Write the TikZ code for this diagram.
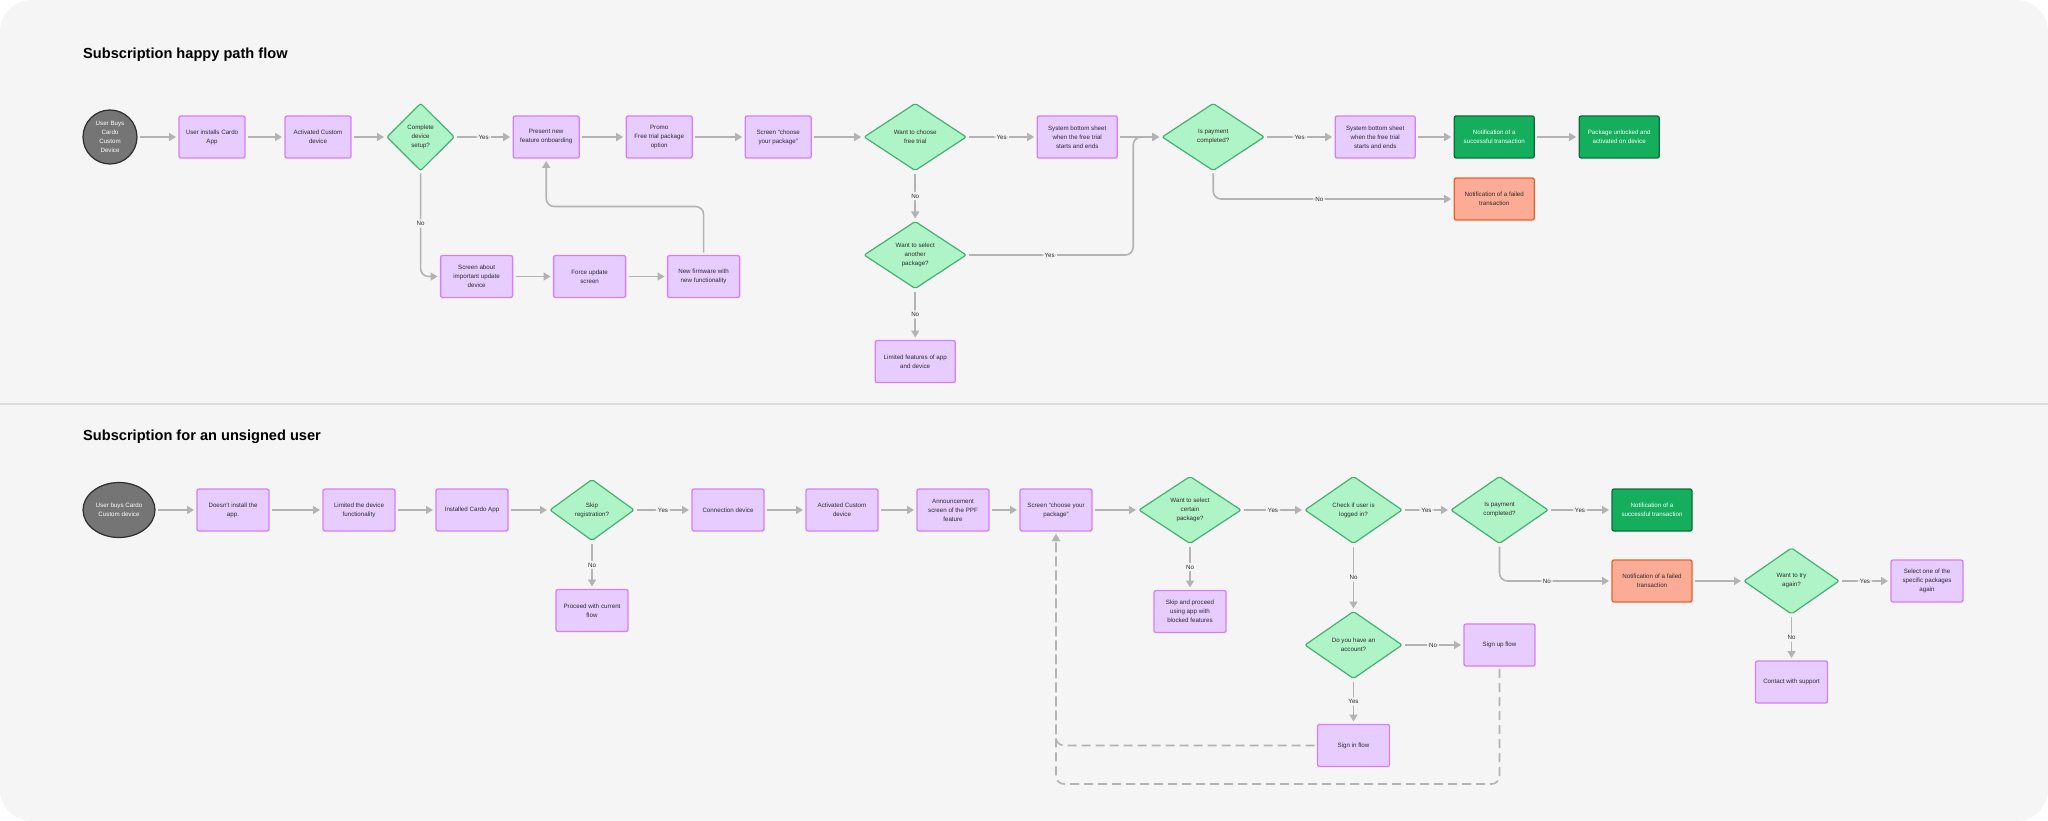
\documentclass[tikz,border=0pt]{standalone}
\usepackage{fontspec}
\setmainfont{Liberation Sans}
\usepackage{tikz}
\usetikzlibrary{positioning}
\usetikzlibrary{shapes.geometric}
\usetikzlibrary{arrows.meta}

\definecolor{canvas}{HTML}{F5F5F5}
\definecolor{rule}{HTML}{DDDDDD}
\definecolor{lilac}{HTML}{E6CCFF}
\definecolor{lilacline}{HTML}{D47EFA}
\definecolor{mint}{HTML}{AFF4C6}
\definecolor{mintline}{HTML}{45B072}
\definecolor{okfill}{HTML}{14AE5C}
\definecolor{okline}{HTML}{0B6E39}
\definecolor{failfill}{HTML}{FCAB96}
\definecolor{failline}{HTML}{E5642E}
\definecolor{startfill}{HTML}{757575}
\definecolor{startline}{HTML}{2E2E2E}
\definecolor{wire}{HTML}{B3B3B3}
\definecolor{ink}{HTML}{2C2C2C}

\begin{document}
\begin{tikzpicture}[
                x = 1pt, y = -1pt,
                box/.style = {
                    draw = lilacline,
                    fill = lilac,
                    line width = 1.3pt,
                    rounded corners = 2pt,
                    minimum width = #1,
                    minimum height = 42pt,
                    inner sep = 1pt,
                    outer sep = 0pt,
                    align = center,
                    text = ink,
                    font = \fontsize{6.2}{9}\selectfont
                },
                box/.default = 72pt,
                ok/.style = {box = 80pt, draw = okline, fill = okfill, text = white},
                fail/.style = {box = 80pt, draw = failline, fill = failfill},
                dec/.style = {
                    diamond,
                    aspect = 1.5,
                    draw = mintline,
                    fill = mint,
                    line width = 1.2pt,
                    rounded corners = 2pt,
                    minimum width = #1,
                    minimum height = 67pt,
                    inner sep = 1pt,
                    outer sep = 0pt,
                    align = center,
                    text = ink,
                    font = \fontsize{6.2}{9}\selectfont
                },
                dec/.default = 102pt,
                start/.style = {
                    circle,
                    draw = startline,
                    fill = startfill,
                    line width = 1.2pt,
                    inner sep = 0pt,
                    outer sep = 0pt,
                    align = center,
                    text = white,
                    font = \fontsize{6.2}{9}\selectfont
                },
                flow/.style = {
                    draw = wire,
                    line width = 1.6pt,
                    rounded corners = 8pt,
                    shorten <= 3pt,
                    shorten >= 3pt,
                    -{Triangle[length=7pt, width=8pt]}
                },
                retry/.style = {flow, dash pattern = on 9pt off 5pt},
                lbl/.style = {fill = canvas, inner sep = 2pt, text = ink, font = \fontsize{6.2}{7}\selectfont},
                title/.style = {anchor = west, inner sep = 0pt, font = \fontsize{14.6}{17}\selectfont\bfseries}
            ]
            \useasboundingbox (0,0) rectangle (2048,821);
            \fill[white] (0,0) rectangle (2048,821);
            \fill[canvas, rounded corners = 32pt] (0,0) rectangle (2048,821);
            \draw[rule, line width = 1.2pt] (0,404) -- (2048,404);
            %
            \node[title] (t1) at (83,55) {Subscription happy path flow};
            \node[title] (t2) at (83,437) {Subscription for an unsigned user};
            %
            \node[start, minimum size = 54pt] (1) at (110,137) {User Buys\\Cardo\\Custom\\Device};
            \node[box = 66pt, right = 42pt of 1] (2) {User installs Cardo\\App};
            \node[box = 66pt, right = 40pt of 2] (3) {Activated Custom\\device};
            \node[dec = 66pt] (4) [right = 36pt of 3] {Complete\\device\\setup?};
            \node[box = 66pt, right = 59pt of 4] (5) {Present new\\feature onboarding};
            \node[box = 66pt, right = 47pt of 5] (6) {Promo\\Free trial package\\option};
            \node[box = 66pt, right = 53pt of 6] (7) {Screen “choose\\your package”};
            \node[dec] (8) [right = 53pt of 7] {Want to choose\\free trial};
            \node[box = 80pt, right = 71pt of 8] (9) {System bottom sheet\\when the free trial\\starts and ends};
            \node[dec] (10) [right = 45pt of 9] {Is payment\\completed?};
            \node[box = 80pt, right = 71pt of 10] (11) {System bottom sheet\\when the free trial\\starts and ends};
            \node[ok, right = 39pt of 11] (12) {Notification of a\\successful transaction};
            \node[ok, right = 45pt of 12] (13) {Package unlocked and\\activated on device};
            \node[fail, below = 20pt of 12] (14) {Notification of a failed\\transaction};
            %
            \node[dec] (15) [below = 51pt of 8] {Want to select\\another\\package?};
            \node[box = 80pt, below = 52pt of 15] (16) {Limited features of app\\and device};
            %
            \node[box, below = 85pt of 4, xshift = 56pt] (17) {Screen about\\important update\\device};
            \node[box, right = 41pt of 17] (18) {Force update\\screen};
            \node[box, right = 42pt of 18] (19) {New firmware with\\new functionality};
            %
            \coordinate[right = 16pt of 9] (j1);
            %
            \draw[flow] (1) -- (2);
            \draw[flow] (2) -- (3);
            \draw[flow] (3) -- (4);
            \draw[flow] (4) -- node[lbl]{Yes} (5);
            \draw[flow] (5) -- (6);
            \draw[flow] (6) -- (7);
            \draw[flow] (7) -- (8);
            \draw[flow] (8) -- node[lbl]{Yes} (9);
            \draw[flow] (9) -- (10);
            \draw[flow] (10) -- node[lbl]{Yes} (11);
            \draw[flow] (11) -- (12);
            \draw[flow] (12) -- (13);
            %
            \draw[flow] (8) -- node[lbl]{No} (15);
            \draw[flow] (15) -- node[lbl]{No} (16);
            \draw[flow] (15.east) -- node[lbl]{Yes} (15.east -| j1) -- (j1) -- (10.west);
            \draw[flow] (10.south) |- node[lbl, pos = 0.72]{No} (14.west);
            %
            \draw[flow] (4.south) |- node[lbl, pos = 0.25]{No} (17.west);
            \draw[flow] (17) -- (18);
            \draw[flow] (18) -- (19);
            \draw[flow] (19.north) -- ++(0,-49) -| (5.south);
            %
            %
            \node[start, ellipse, minimum width = 72pt, minimum height = 55pt] (21) at (119,510) {User buys Cardo\\Custom device};
            \node[box, right = 42pt of 21] (22) {Doesn't install the\\app.};
            \node[box, right = 54pt of 22] (23) {Limited the device\\functionality};
            \node[box, right = 41pt of 23] (24) {Installed Cardo App};
            \node[dec = 84pt, minimum height = 61pt] (25) [right = 42pt of 24] {Skip\\registration?};
            \node[box, below = 49pt of 25] (26) {Proceed with current\\flow};
            \node[box, right = 58pt of 25] (27) {Connection device};
            \node[box, right = 42pt of 27] (28) {Activated Custom\\device};
            \node[box, right = 39pt of 28] (29) {Announcement\\screen of the PPF\\feature};
            \node[box, right = 31pt of 29] (30) {Screen “choose your\\package”};
            \node[dec] (31) [right = 47pt of 30] {Want to select\\certain\\package?};
            \node[box, below = 47pt of 31] (32) {Skip and proceed\\using app with\\blocked features};
            \node[dec = 97pt] (33) [right = 64pt of 31] {Check if user is\\logged in?};
            \node[dec = 97pt] (34) [right = 49pt of 33] {Is payment\\completed?};
            \node[ok, right = 64pt of 34] (35) {Notification of a\\successful transaction};
            \node[fail, below = 29pt of 35] (36) {Notification of a failed\\transaction};
            \node[dec = 95pt, minimum height = 66pt] (37) [right = 52pt of 36] {Want to try\\again?};
            \node[box, right = 52pt of 37] (38) {Select one of the\\specific packages\\again};
            \node[box, below = 47pt of 37] (39) {Contact with support};
            %
            \node[dec = 97pt] (40) [below = 68pt of 33] {Do you have an\\account?};
            \node[box = 71pt, right = 62pt of 40] (41) {Sign up flow};
            \node[box, below = 46pt of 40] (42) {Sign in flow};
            %
            \draw[flow] (21) -- (22);
            \draw[flow] (22) -- (23);
            \draw[flow] (23) -- (24);
            \draw[flow] (24) -- (25);
            \draw[flow] (25) -- node[lbl]{Yes} (27);
            \draw[flow] (25) -- node[lbl]{No} (26);
            \draw[flow] (27) -- (28);
            \draw[flow] (28) -- (29);
            \draw[flow] (29) -- (30);
            \draw[flow] (30) -- (31);
            \draw[flow] (31) -- node[lbl]{Yes} (33);
            \draw[flow] (31) -- node[lbl]{No} (32);
            \draw[flow] (33) -- node[lbl]{Yes} (34);
            \draw[flow] (34) -- node[lbl]{Yes} (35);
            \draw[flow] (34.south) |- node[lbl, pos = 0.71]{No} (36.west);
            \draw[flow] (36) -- (37);
            \draw[flow] (37) -- node[lbl]{Yes} (38);
            \draw[flow] (37) -- node[lbl]{No} (39);
            %
            \draw[flow] (33) -- node[lbl]{No} (40);
            \draw[flow] (40) -- node[lbl]{No} (41);
            \draw[flow] (40) -- node[lbl]{Yes} (42);
            \draw[retry] (42.west) -| (30.south);
            \draw[retry] (41.south) -- ++(0,118) -| (30.south);
            %
        \end{tikzpicture}
\end{document}
